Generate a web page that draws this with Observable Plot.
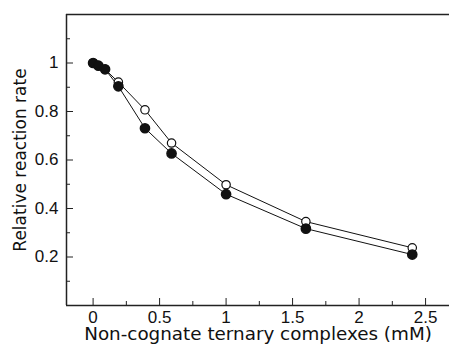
<!DOCTYPE html>
<html>
<head>
<meta charset="utf-8">
<script src="https://cdn.jsdelivr.net/npm/d3@7"></script>
<script src="https://cdn.jsdelivr.net/npm/@observablehq/plot@0.6"></script>
<style>
  html, body { margin: 0; padding: 0; background: #fff; }
  svg { display: block; }
</style>
</head>
<body>
<div id="chart"></div>
<script>
const filledX = [0, 0.04, 0.09, 0.19, 0.39, 0.59, 1.0, 1.6, 2.4];
const filledY = [1.0, 0.989, 0.974, 0.904, 0.731, 0.627, 0.459, 0.317, 0.21];
const openX = [0, 0.04, 0.09, 0.19, 0.39, 0.59, 1.0, 1.6, 2.4];
const openY = [1.0, 0.989, 0.974, 0.921, 0.807, 0.670, 0.498, 0.346, 0.238];

const xMajorTicks = [0, 0.5, 1, 1.5, 2, 2.5];
const xMinorTicks = [0.25, 0.75, 1.25, 1.75, 2.25];
const yMajorTicks = [0.2, 0.4, 0.6, 0.8, 1];
const yMinorTicks = [0.1, 0.3, 0.5, 0.7, 0.9, 1.1];
const xDomain = [-0.2, 2.68];
const yDomain = [0, 1.2];
const xLabel = "Non-cognate ternary complexes (mM)";
const yLabel = "Relative reaction rate";

const filled = filledX.map((x, i) => ({x, y: filledY[i]}));
const open = openX.map((x, i) => ({x, y: openY[i]}));

const W = 449, H = 345, ML = 66, MR = 0, MT = 14, MB = 40;
const plotW = W - ML - MR, plotH = H - MT - MB;

const fmt = d => String(d);
const tickFont = "'Liberation Sans Narrow', 'Liberation Sans', sans-serif";
const labelFont = "'DejaVu Sans', sans-serif";
const ink = "#222";

const ctx = document.createElement("canvas").getContext("2d");
function measure(str, size, family) {
  ctx.font = `${size}px ${family}`;
  return ctx.measureText(str).width;
}
const tickSize = 17, yTitleSize = 17;
const tickScale = 20.5 / measure("0.8", tickSize, tickFont);
const xTitleSize = 15 * 348 / measure(xLabel, 15, labelFont);
const yTitleScale = 183 / measure(yLabel, yTitleSize, labelFont);

const chart = Plot.plot({
  width: W,
  height: H,
  marginLeft: ML,
  marginRight: MR,
  marginTop: MT,
  marginBottom: MB,
  style: {fontFamily: labelFont, fontSize: "16px", color: "#111", background: "#fff"},
  x: {domain: xDomain, axis: null},
  y: {domain: yDomain, axis: null},
  marks: [
    // frame: left, bottom, top
    Plot.ruleX([xDomain[0]], {stroke: ink, strokeWidth: 1.5}),
    Plot.ruleY([yDomain[0], yDomain[1]], {stroke: ink, strokeWidth: 1.5}),
    // inward ticks
    Plot.tickX(xMajorTicks, {x: d => d, insetTop: plotH - 7, stroke: ink}),
    Plot.tickX(xMinorTicks, {x: d => d, insetTop: plotH - 4, stroke: ink}),
    Plot.tickY(yMajorTicks, {y: d => d, insetRight: plotW - 7, stroke: ink}),
    Plot.tickY(yMinorTicks, {y: d => d, insetRight: plotW - 4, stroke: ink}),
    // tick labels
    Plot.text(xMajorTicks, {x: d => d, frameAnchor: "bottom", lineAnchor: "middle", textAnchor: "middle", dy: 12.5, text: fmt, fontSize: tickSize, fontFamily: tickFont, fill: "#111", ariaLabel: "x-ticks"}),
    Plot.text(yMajorTicks, {y: d => d, frameAnchor: "left", lineAnchor: "middle", textAnchor: "end", dx: -8, text: fmt, fontSize: tickSize, fontFamily: tickFont, fill: "#111", ariaLabel: "y-ticks"}),
    // axis titles
    Plot.text([xLabel], {frameAnchor: "bottom", lineAnchor: "middle", textAnchor: "middle", dy: 29, text: d => d, fontSize: xTitleSize, fontFamily: labelFont, fill: "#111", ariaLabel: "x-title"}),
    Plot.text([yLabel], {frameAnchor: "left", lineAnchor: "middle", textAnchor: "middle", dx: -46, rotate: -90, text: d => d, fontSize: yTitleSize, fontFamily: labelFont, fill: "#111", ariaLabel: "y-title"}),
    // series
    Plot.line(open, {x: "x", y: "y", stroke: "#111", strokeWidth: 1}),
    Plot.line(filled, {x: "x", y: "y", stroke: "#111", strokeWidth: 1}),
    Plot.dot(open, {x: "x", y: "y", r: 4.2, fill: "#fff", stroke: "#111", strokeWidth: 1.2}),
    Plot.dot(filled, {x: "x", y: "y", r: 4.6, fill: "#111", stroke: "#111"})
  ]
});

// apply the reference's horizontal stretch to the texts, about each text's anchor
function stretch(label, sx, sy) {
  chart.querySelectorAll(`g[aria-label="${label}"] text`).forEach(t => {
    const tr = t.getAttribute("transform");
    if (tr) t.setAttribute("transform", `${tr} scale(${sx},${sy})`);
  });
}
stretch("x-ticks", tickScale, 1);
stretch("y-ticks", tickScale, 1);
stretch("y-title", yTitleScale, 1.22);

document.getElementById("chart").appendChild(chart);
</script>
</body>
</html>
